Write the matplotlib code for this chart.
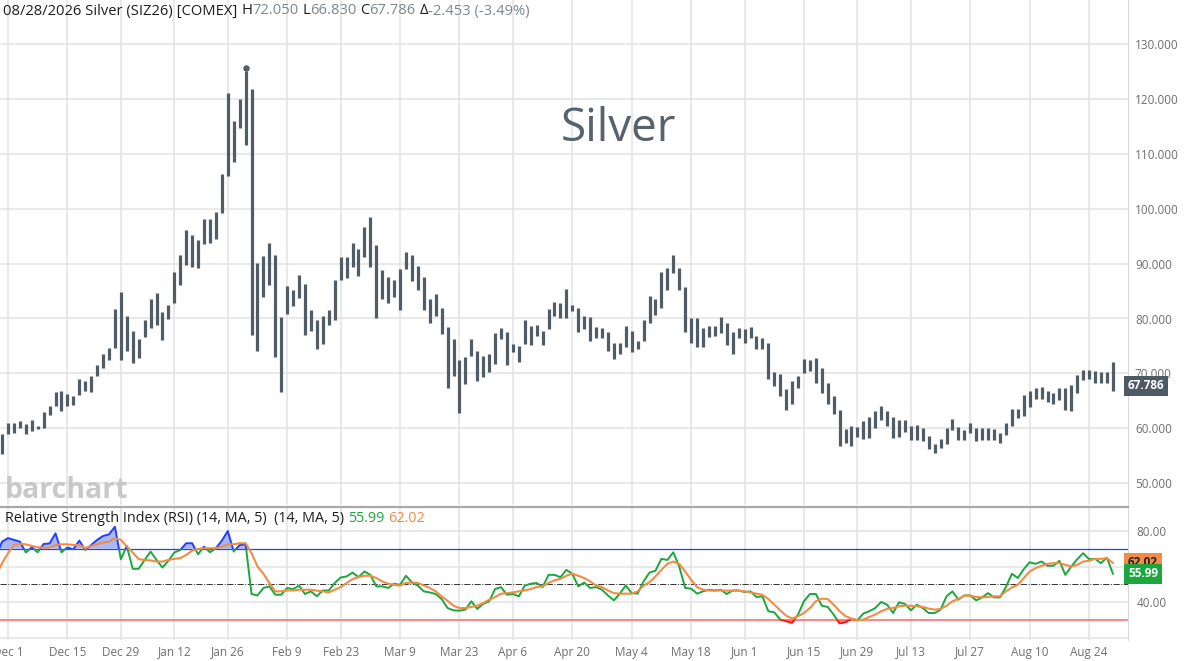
import matplotlib
matplotlib.use("Agg")
import matplotlib.pyplot as plt
from matplotlib.patches import Rectangle
import numpy as np
import pandas as pd

plt.rcParams['font.family'] = ['Open Sans', 'DejaVu Sans']

# trading days (Nov 26, Nov 28 and Dec 1 .. Aug 28)
holidays = ['2025-11-27', '2025-12-25', '2026-01-01', '2026-01-19', '2026-02-16',
            '2026-04-03', '2026-05-25', '2026-06-19', '2026-07-03']
dates = pd.bdate_range('2025-11-26', '2026-08-28')
dates = dates[~dates.isin(pd.to_datetime(holidays))]

high = [56.5, 58.9,
        61.0, 61.0, 61.3, 60.7, 61.5, 60.5, 63.0, 64.1, 66.6, 66.8,
        66.2, 65.9, 69.0, 68.6, 69.6, 71.5, 73.6, 74.7, 81.8, 84.8,
        80.4, 77.7, 76.2, 79.8, 83.6, 84.7, 81.1, 82.5, 88.5, 91.6,
        96.1, 95.3, 94.3, 98.1, 98.1, 99.4, 106.3, 121.0, 116.0, 119.9,
        125.0, 121.8, 90.1, 91.4, 93.7, 91.5, 80.2, 85.9, 85.2, 87.9,
        86.3, 81.5, 79.7, 80.4, 81.5, 87.0, 91.2, 91.2, 93.8, 92.7,
        96.7, 98.5, 93.3, 88.8, 87.5, 87.1, 89.0, 92.1, 91.5, 89.5,
        87.6, 83.6, 84.4, 81.9, 78.5, 76.2, 72.5, 73.0, 76.3, 74.1,
        73.2, 73.6, 77.4, 78.3, 77.6, 75.3, 75.0, 79.7, 78.6, 78.9,
        77.8, 81.8, 83.0, 82.8, 85.3, 82.5, 81.9, 80.5, 80.2, 78.4,
        78.3, 77.5, 75.6, 75.6, 78.7, 77.7, 75.9, 79.7, 84.1, 83.5,
        88.5, 89.2, 91.5, 89.2, 85.8, 80.0, 80.0, 78.3, 78.7, 78.6,
        80.3, 79.2, 77.5, 78.3, 78.0, 78.5, 76.8, 76.5, 75.5, 70.2,
        69.8, 67.1, 68.6, 69.5, 72.7, 72.4, 72.8, 70.9, 68.2, 65.9,
        63.3, 59.8, 60.4, 60.2, 61.4, 62.0, 63.2, 64.1, 63.2, 62.0,
        61.6, 61.5, 60.4, 60.6, 60.0, 58.6, 57.2, 58.1, 60.0, 61.7,
        60.2, 59.7, 60.9, 60.0, 60.0, 60.0, 59.8, 59.2, 61.0, 63.5,
        63.6, 66.1, 66.8, 67.3, 67.6, 66.8, 66.5, 67.3, 67.3, 67.9,
        69.7, 70.7, 70.6, 70.5, 70.3, 70.3, 72.05]

low = [52.4, 55.3,
       58.9, 59.2, 60.1, 58.9, 59.5, 59.8, 60.1, 62.5, 64.1, 63.2,
       64.1, 64.2, 66.0, 66.8, 66.6, 69.6, 71.0, 72.5, 74.7, 72.4,
       74.1, 71.9, 72.8, 76.7, 78.3, 78.9, 76.0, 79.9, 82.8, 86.1,
       89.8, 89.3, 89.2, 93.5, 93.7, 94.4, 99.2, 106.0, 108.5, 114.7,
       111.6, 77.0, 74.0, 83.9, 86.1, 72.9, 66.7, 80.8, 82.3, 83.7,
       77.0, 77.8, 74.5, 75.3, 78.9, 79.8, 87.1, 87.4, 89.4, 87.7,
       91.2, 89.4, 80.0, 83.6, 82.8, 83.9, 81.5, 89.1, 86.8, 85.2,
       81.6, 79.2, 80.4, 77.1, 67.4, 69.5, 62.8, 68.0, 73.2, 68.6,
       69.4, 70.2, 71.8, 76.2, 71.6, 73.9, 72.1, 75.3, 75.2, 76.9,
       75.1, 78.0, 80.5, 80.1, 80.1, 81.3, 77.5, 78.0, 75.9, 76.4,
       76.5, 74.1, 72.7, 73.5, 74.8, 73.9, 74.5, 75.9, 79.2, 80.6,
       81.9, 85.2, 88.2, 85.2, 77.5, 75.6, 74.8, 74.8, 76.7, 76.8,
       77.4, 75.2, 73.6, 76.4, 75.6, 76.4, 74.4, 74.5, 69.0, 67.7,
       65.9, 63.3, 64.5, 67.4, 70.1, 70.4, 68.3, 66.5, 64.5, 62.6,
       56.8, 57.4, 56.7, 58.5, 58.0, 58.2, 60.0, 61.5, 60.4, 58.2,
       58.5, 59.4, 57.9, 57.9, 57.6, 56.2, 55.5, 56.4, 57.2, 59.7,
       57.9, 57.9, 59.1, 57.6, 57.8, 57.9, 57.9, 57.3, 58.8, 60.4,
       61.8, 62.2, 63.8, 65.3, 65.3, 64.8, 64.4, 65.2, 63.3, 63.2,
       66.5, 68.8, 68.9, 68.2, 68.2, 68.2, 66.83]

last_close = 67.786

rsi = [66.0, 74.0,
       76.0, 75.0, 74.0, 67.9, 70.8, 68.0, 72.7, 73.0, 78.7, 68.0,
       70.7, 69.7, 74.6, 69.3, 72.1, 75.0, 77.2, 78.1, 82.4, 64.1,
       71.6, 58.7, 58.7, 63.7, 68.4, 63.7, 59.4, 63.2, 67.9, 69.3,
       73.1, 73.1, 66.9, 71.2, 68.0, 70.3, 74.6, 80.0, 68.4, 72.1,
       72.5, 44.5, 43.7, 47.9, 48.8, 44.1, 44.1, 47.9, 47.3, 49.2,
       44.5, 46.0, 43.2, 46.5, 46.5, 50.7, 53.8, 54.4, 56.6, 54.0,
       57.2, 55.3, 48.8, 48.8, 47.9, 50.3, 49.7, 54.8, 51.0, 49.2,
       46.0, 45.4, 44.5, 41.7, 36.6, 35.3, 35.1, 35.7, 40.4, 36.1,
       38.9, 40.4, 47.3, 48.4, 44.1, 44.5, 43.2, 49.2, 50.3, 50.7,
       48.4, 55.3, 55.3, 54.0, 58.1, 55.9, 48.8, 51.0, 47.9, 48.4,
       46.9, 43.7, 40.9, 44.7, 49.3, 45.0, 44.7, 51.6, 56.6, 57.6,
       64.3, 63.7, 68.0, 60.0, 47.9, 47.5, 44.7, 46.0, 46.9, 46.5,
       46.9, 44.5, 46.5, 46.5, 45.6, 46.0, 42.8, 43.2, 34.8, 34.2,
       30.1, 29.2, 28.2, 32.9, 40.4, 44.5, 44.5, 37.9, 37.2, 32.9,
       27.9, 28.6, 30.5, 29.7, 33.5, 34.8, 36.6, 40.0, 38.5, 33.8,
       39.8, 38.9, 35.3, 38.5, 36.6, 33.8, 33.8, 35.7, 43.2, 46.0,
       41.3, 43.7, 43.7, 40.9, 42.6, 45.0, 42.6, 42.6, 48.4, 55.9,
       53.5, 58.5, 62.4, 61.5, 62.8, 60.4, 60.4, 63.2, 55.3, 60.0,
       64.1, 67.5, 64.1, 64.3, 61.9, 65.0, 55.99]

rsi_ma = [55.0, 61.9,
          67.5, 72.1, 72.7, 72.5, 71.6, 70.8, 70.7, 70.7, 72.1, 72.5,
          72.5, 72.1, 72.1, 70.3, 71.6, 72.5, 73.5, 74.0, 75.9, 75.0,
          71.2, 67.9, 64.1, 63.7, 63.4, 62.8, 62.8, 63.7, 64.3, 64.7,
          66.5, 69.0, 69.9, 70.3, 70.3, 70.3, 71.2, 72.5, 72.5, 73.1,
          73.1, 67.5, 60.0, 55.9, 50.7, 46.0, 46.0, 46.5, 46.5, 46.9,
          46.9, 46.9, 46.4, 46.0, 45.4, 46.9, 48.4, 50.7, 52.9, 54.0,
          54.8, 54.8, 53.5, 51.6, 50.3, 49.7, 49.2, 50.7, 51.0, 50.7,
          49.3, 47.9, 46.0, 43.2, 40.7, 37.9, 36.6, 36.6, 37.2, 37.9,
          39.4, 41.3, 42.8, 44.7, 45.0, 45.4, 46.0, 46.5, 47.3, 48.4,
          48.8, 50.7, 52.2, 53.1, 54.8, 55.9, 54.8, 53.5, 51.6, 49.3,
          48.4, 46.5, 45.0, 44.7, 44.7, 44.7, 46.0, 49.2, 51.2, 54.4,
          58.1, 61.5, 62.8, 61.5, 57.2, 52.5, 48.4, 46.9, 46.5, 46.4,
          46.5, 46.4, 46.4, 46.4, 46.0, 45.4, 44.7, 44.1, 41.7, 38.5,
          35.3, 32.3, 30.7, 32.0, 33.8, 36.6, 40.4, 41.9, 41.7, 38.5,
          34.8, 32.0, 30.7, 29.7, 30.1, 31.6, 32.9, 34.8, 36.1, 36.6,
          37.6, 37.9, 37.9, 37.6, 37.2, 36.3, 35.7, 36.1, 37.9, 40.4,
          41.7, 43.6, 43.6, 42.8, 42.6, 42.8, 43.2, 43.2, 46.0, 48.2,
          49.7, 53.5, 57.2, 59.1, 60.4, 61.5, 61.9, 61.9, 60.9, 60.0,
          60.9, 62.8, 63.2, 64.3, 64.3, 64.7, 62.02]

price_ticks = [50, 60, 70, 80, 90, 100, 110, 120, 130]

W, H = 1188, 661
BAR = '#505c66'
GRID = '#e3e3e3'
GREEN = '#1aa83c'
ORANGE = '#f28c45'
BLUE = '#2040ff'
LABEL = '#6f6f6f'

x = np.arange(len(dates))
high = np.array(high)
low = np.array(low)
rsi = np.array(rsi)
rsi_ma = np.array(rsi_ma)

first = int(np.where(dates == pd.Timestamp('2025-12-01'))[0][0])
xmin, xmax = first - 8 / 5.94, first + 1120 / 5.94
tick_dates = pd.date_range('2025-12-01', '2026-08-24', freq='14D')
tick_idx = [int(np.where(dates == d)[0][0]) for d in tick_dates]
tick_lbl = [f'{d:%b} {d.day}' for d in tick_dates]

fig = plt.figure(figsize=(W / 100, H / 100), dpi=100)
fig.patch.set_facecolor('white')

plot_w = 1128 / W
ax = fig.add_axes([0, 156 / H, plot_w, 505 / H])
ax2 = fig.add_axes([0, (H - 640) / H, plot_w, (640 - 507) / H])

# ---- price panel ----
ax.vlines(x, low, high, color=BAR, linewidth=2.3, zorder=3)
top = int(np.argmax(high))
ax.plot(x[top], high[top] + 0.7, marker='o', markersize=3.6, color=BAR, zorder=3)

ax.set_xlim(xmin, xmax)
ax.set_ylim(130 - 461 / 5.49, 130 + 44 / 5.49)
ax.set_yticks(price_ticks)
ax.set_yticklabels([f'{v:.3f}' for v in price_ticks])
ax.yaxis.tick_right()
ax.tick_params(axis='y', length=0, pad=5, labelsize=8.5, labelcolor=LABEL)
ax.set_xticks(tick_idx)
ax.tick_params(axis='x', length=0, labelbottom=False)
ax.grid(True, color=GRID, linewidth=1.1)
ax.set_axisbelow(True)
for s in ['top', 'left', 'bottom']:
    ax.spines[s].set_visible(False)
ax.spines['right'].set_color('#d8d8d8')

ax.text(0.548, 0.745, 'Silver', transform=ax.transAxes, ha='center', va='center',
        fontsize=33, color='#56626c')
ax.text(0.004, 0.014, 'barchart', transform=ax.transAxes, ha='left', va='baseline',
        fontsize=20.5, fontweight='bold', color='#c8c8c8')

ax.text(1.0, last_close, f'{last_close:.3f}', transform=ax.get_yaxis_transform(),
        ha='left', va='center', fontsize=8.5, fontweight='bold', color='white',
        bbox=dict(boxstyle='square,pad=0.3', fc='#4d5a65', ec='none'), zorder=5)

# ---- RSI panel ----
ax2.set_xlim(xmin, xmax)
ax2.set_ylim(80 - 109 / 1.775, 80 + 24 / 1.775)
ax2.set_yticks([20, 40, 60, 80])
ax2.set_yticklabels(['', '40.00', '', '80.00'])
ax2.yaxis.tick_right()
ax2.tick_params(axis='y', length=0, pad=6, labelsize=8.5, labelcolor=LABEL)
ax2.set_xticks(tick_idx)
ax2.set_xticklabels(tick_lbl)
ax2.tick_params(axis='x', length=0, pad=4, labelsize=8.5, labelcolor=LABEL)
ax2.grid(True, color=GRID, linewidth=1.1)
ax2.set_axisbelow(True)
for s in ['left', 'bottom']:
    ax2.spines[s].set_visible(False)
ax2.spines['right'].set_color('#d8d8d8')
ax2.spines['top'].set_color('#a8a8a8')
ax2.spines['top'].set_linewidth(1.6)

ax2.axhline(70, color=BLUE, linewidth=0.9, zorder=2)
ax2.axhline(30, color='#ff6f6f', linewidth=1.2, zorder=2)
ax2.axhline(50, color='#333333', linewidth=0.7, linestyle='-.', zorder=2)

ax2.fill_between(x, rsi, 70, where=rsi >= 70, interpolate=True,
                 color='#8fa0f5', alpha=0.75, linewidth=0, zorder=3)
ax2.fill_between(x, rsi, 30, where=rsi <= 30, interpolate=True,
                 color='#ff5a5a', alpha=0.6, linewidth=0, zorder=3)

# RSI line: green in the middle band, blue above 70, red below 30
bands = [(30, 70, GREEN), (70, 120, BLUE), (-20, 30, '#ff1010')]
for lo, hi, col in bands:
    ln, = ax2.plot(x, rsi, color=col, linewidth=1.4, zorder=4)
    ln.set_clip_path(Rectangle((xmin, lo), xmax - xmin, hi - lo, transform=ax2.transData))
ax2.plot(x, rsi_ma, color=ORANGE, linewidth=1.5, zorder=5)

ax2.text(1.0, rsi_ma[-1], f'{rsi_ma[-1]:.2f}', transform=ax2.get_yaxis_transform(),
         ha='left', va='center', fontsize=8.5, fontweight='bold', color='#222222',
         bbox=dict(boxstyle='square,pad=0.3', fc=ORANGE, ec='none'), zorder=5)
ax2.text(1.0, rsi[-1], f'{rsi[-1]:.2f}', transform=ax2.get_yaxis_transform(),
         ha='left', va='center', fontsize=8.5, fontweight='bold', color='white',
         bbox=dict(boxstyle='square,pad=0.3', fc=GREEN, ec='none'), zorder=6)

# ---- multi-coloured header lines ----
renderer = fig.canvas.get_renderer()


def text_row(x_px, y_px, pieces, size):
    probe = fig.text(0, 0, 'x x', fontsize=size)
    probe2 = fig.text(0, 0, 'xx', fontsize=size)
    gap = probe.get_window_extent(renderer).width - probe2.get_window_extent(renderer).width
    probe.remove()
    probe2.remove()
    for txt, col in pieces:
        if txt == ' ':
            x_px += gap
            continue
        t = fig.text(x_px / W, 1 - y_px / H, txt, color=col, fontsize=size,
                     ha='left', va='center')
        x_px += t.get_window_extent(renderer).width


DARK = '#1e1e1e'
GRAYV = '#7b8790'
text_row(3, 11, [('08/28/2026 Silver (SIZ26) [COMEX]', DARK), (' ', None),
                 ('H', DARK), ('72.050', GRAYV), (' ', None),
                 ('L', DARK), ('66.830', GRAYV), (' ', None),
                 ('C', DARK), ('67.786', GRAYV), (' ', None),
                 ('Δ', DARK), ('-2.453 (-3.49%)', GRAYV)], 10.6)
text_row(5, 519, [('Relative Strength Index (RSI) (14, MA, 5)  (14, MA, 5)', DARK), (' ', None),
                  (f'{rsi[-1]:.2f}', GREEN), (' ', None),
                  (f'{rsi_ma[-1]:.2f}', ORANGE)], 10.4)

fig.savefig('out.png', dpi=100, facecolor='white')
